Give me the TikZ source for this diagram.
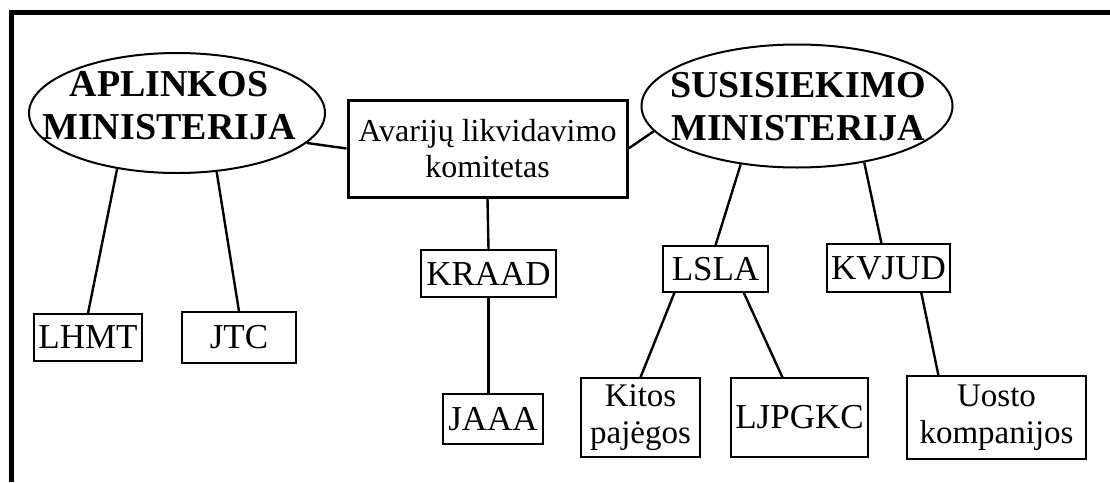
\documentclass[tikz,border=0pt]{standalone}
\usepackage{fontspec}
\setmainfont{Liberation Serif}
\usetikzlibrary{shapes.geometric}

\begin{document}
\begin{tikzpicture}
[x=1pt, y=-1pt,
 every node/.style={align=center, inner sep=0pt,
   font=\fontsize{33}{37}\selectfont},
 nodeMin/.style={draw, ellipse, line width=2pt},
 nodeMinTxt/.style={font=\fontsize{38}{43}\selectfont\bfseries},
 nodeKom/.style={draw, rectangle, line width=3pt,
   font=\fontsize{32}{36}\selectfont},
 nodeOrg/.style={draw, rectangle, line width=1.4pt},
 nodeAbr/.style={nodeOrg, font=\fontsize{35}{37}\selectfont},
 link/.style={line width=2.4pt}
]
\path[fill=white, use as bounding box] (0,0) rectangle (1110,482);
\draw[line width=5pt] (11,482) -- (11,12) -- (1110,12);
% ministerijos ir komitetas
\node[nodeMin, minimum width=296, minimum height=120] (AM) at (177, 113) {};
\node[nodeMinTxt] (AMt) at (169, 106) {APLINKOS\\MINISTERIJA};
\node[nodeMin, minimum width=311, minimum height=123] (SM) at (797, 106) {};
\node[nodeMinTxt] (SMt) at (798, 107) {SUSISIEKIMO\\MINISTERIJA};
\node[nodeKom, minimum width=279, minimum height=97] (ALK) at (487.5, 148.5) {Avarijų likvidavimo\\komitetas};
% pavaldžios institucijos
\node[nodeAbr, minimum width=108, minimum height=47] (LHMT) at (88, 337.5) {LHMT};
\node[nodeAbr, minimum width=114, minimum height=51] (JTC) at (239, 337.5) {JTC};
\node[nodeAbr, minimum width=135, minimum height=47] (KRAAD) at (488.5, 273.5) {KRAAD};
\node[nodeAbr, minimum width=100, minimum height=50] (JAAA) at (493, 419) {JAAA};
\node[nodeAbr, minimum width=105, minimum height=46] (LSLA) at (715.5, 269) {LSLA};
\node[nodeAbr, minimum width=123, minimum height=48] (KVJUD) at (888.5, 268) {KVJUD};
\node[nodeOrg, minimum width=119, minimum height=79] (KP) at (640.5, 417.5) {Kitos\\pajėgos};
\node[nodeAbr, minimum width=137, minimum height=79] (LJPGKC) at (799.5, 417.5) {LJPGKC};
\node[nodeOrg, minimum width=179, minimum height=83] (UK) at (996.5, 417.5) {Uosto\\kompanijos};
% ryšiai
\draw[link] (AM.347) -- (ALK.west);
\draw[link] (ALK.east) -- (SM.190);
\draw[link] (AM.223) -- (LHMT.north);
\draw[link] (AM.304) -- (JTC.north);
\draw[link] (ALK.south) -- (KRAAD.north);
\draw[link] (KRAAD.south) -- (KRAAD.south |- JAAA.north);
\draw[link] (SM.226) -- (LSLA.north);
\draw[link] (SM.320) -- (KVJUD.106);
\draw[link] (LSLA.210) -- (KP.north);
\draw[link] (LSLA.320) -- (LJPGKC.113);
\draw[link] (KVJUD.323) -- (UK.144);
\end{tikzpicture}
\end{document}
